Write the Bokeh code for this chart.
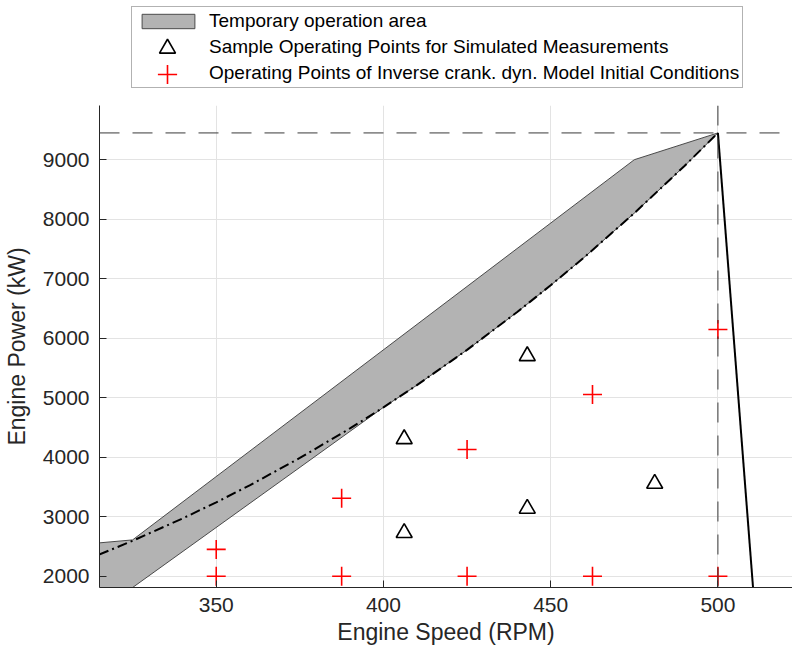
from bokeh.plotting import figure
from bokeh.layouts import column
from bokeh.models import Range1d, FixedTicker, Legend, LegendItem, Span
from bokeh.embed import file_html
from bokeh.resources import INLINE

# ---- data ----
# temporary operation area (upper boundary, then lower boundary back)
area_upper_rpm = [315, 325, 475, 500]
area_upper_kw = [2560, 2610, 9000, 9450]
area_lower_rpm = [490, 475, 460, 450, 440, 425, 410, 400, 325, 315]
area_lower_kw = [8894, 8102, 7358, 6889, 6440, 5804, 5211, 4838, 1810, 1405]

# propeller (dash-dot) curve
prop_rpm = [315, 325, 340, 350, 360, 375, 390, 400, 410, 425, 440, 450, 460, 475, 490, 500]
prop_kw = [2363, 2595, 2972, 3241, 3527, 3987, 4484, 4838, 5211, 5804, 6440, 6889, 7358, 8102, 8894, 9450]

# steep limit line from max power point
limit_rpm = [500, 510.5]
limit_kw = [9450, 1810]

max_power_kw = 9450
rated_rpm = 500

# sample operating points (triangles)
tri_rpm = [406.2, 406.2, 443.0, 443.0, 481.1]
tri_kw = [4306, 2728, 5701, 3136, 3556]

# initial-condition operating points (red plus)
plus_rpm = [350, 350, 387.5, 387.5, 425, 425, 462.5, 462.5, 500, 500]
plus_kw = [2000, 2450, 2000, 3311, 2000, 4129, 2000, 5054, 2000, 6146]

x_ticks = [350, 400, 450, 500]
y_ticks = [2000, 3000, 4000, 5000, 6000, 7000, 8000, 9000]

legend_labels = ["Temporary operation area",
                 "Sample Operating Points for Simulated Measurements",
                 "Operating Points of Inverse crank. dyn. Model Initial Conditions"]

FONT = "Liberation Sans"
TXT = "#262626"

AREA_STYLE = dict(fill_color="#b3b3b3", line_color="#4a4a4a", line_width=1)
TRI_STYLE = dict(marker="triangle", size=16, fill_color=None, line_color="black", line_width=1.6)
PLUS_STYLE = dict(marker="cross", size=19, line_color="#ff0000", line_width=1.6)

# ---------------- main plot ----------------
p = figure(width=792, height=547, output_backend="svg", toolbar_location=None,
           x_range=Range1d(315.1, 522.3), y_range=Range1d(1810, 9911),
           min_border_left=98, min_border_right=0, min_border_bottom=65, min_border_top=0)
p.outline_line_color = None
p.background_fill_color = "white"
p.border_fill_color = "white"

for ax in (p.xaxis[0], p.yaxis[0]):
    ax.axis_line_color = TXT
    ax.axis_line_width = 1
    ax.major_tick_line_color = TXT
    ax.major_tick_in = 7
    ax.major_tick_out = 0
    ax.minor_tick_line_color = None
    ax.major_label_text_font = FONT
    ax.major_label_text_font_size = "21px"
    ax.major_label_text_color = TXT
    ax.axis_label_text_font = FONT
    ax.axis_label_text_font_size = "23px"
    ax.axis_label_text_font_style = "normal"
    ax.axis_label_text_color = TXT
    ax.major_label_standoff = 10
p.xaxis.ticker = FixedTicker(ticks=x_ticks)
p.yaxis.ticker = FixedTicker(ticks=y_ticks)
p.xaxis.axis_label = "Engine Speed (RPM)"
p.yaxis.axis_label = "Engine Power (kW)"
p.xaxis.axis_label_standoff = 4
p.yaxis.axis_label_standoff = 10

p.xgrid.ticker = FixedTicker(ticks=x_ticks)
p.ygrid.ticker = FixedTicker(ticks=y_ticks)
for g in (p.xgrid[0], p.ygrid[0]):
    g.grid_line_color = "#e3e3e3"
    g.grid_line_width = 1

p.patch(area_upper_rpm + area_lower_rpm, area_upper_kw + area_lower_kw, **AREA_STYLE)

p.add_layout(Span(location=max_power_kw, dimension="width", line_color="#3a3a3a",
                  line_width=1, line_dash="20 13"))
p.add_layout(Span(location=rated_rpm, dimension="height", line_color="#3a3a3a",
                  line_width=1, line_dash="20 13"))

p.line(prop_rpm, prop_kw, line_color="black", line_width=2, line_dash="10 4 2 4")
p.line(limit_rpm, limit_kw, line_color="black", line_width=2)

p.scatter(tri_rpm, tri_kw, **TRI_STYLE)
p.scatter(plus_rpm, plus_kw, **PLUS_STYLE)

# ---------------- legend strip ----------------
lg = figure(width=792, height=105, output_backend="svg", toolbar_location=None,
            x_range=Range1d(0, 1), y_range=Range1d(0, 1),
            x_axis_location=None, y_axis_location=None,
            min_border_left=0, min_border_right=0, min_border_top=0, min_border_bottom=0)
lg.outline_line_color = None
lg.xgrid.visible = False
lg.ygrid.visible = False
lg.background_fill_color = "white"
lg.border_fill_color = "white"

# legend-only renderers: the same styles, placed outside the visible range
r_area = lg.patch([-5, -4, -4], [-5, -5, -4], **AREA_STYLE)
r_tri = lg.scatter([-5], [-5], **TRI_STYLE)
r_plus = lg.scatter([-5], [-5], **PLUS_STYLE)
r_blank = lg.scatter([-5], [-5], marker="circle", size=1, line_alpha=0, fill_alpha=0)


def style(leg):
    leg.label_text_font = FONT
    leg.label_text_font_size = "19px"
    leg.label_text_color = "#000000"
    leg.margin = 0


legend = Legend(items=[
    LegendItem(label=legend_labels[0], renderers=[r_area]),
    LegendItem(label=legend_labels[1], renderers=[r_blank]),
    LegendItem(label=legend_labels[2], renderers=[r_blank]),
])
style(legend)
legend.glyph_width = 66
legend.glyph_height = 18
legend.label_height = 18
legend.spacing = 4
legend.padding = 3
legend.label_standoff = 8
legend.border_line_color = "#666666"
legend.border_line_width = 1
legend.background_fill_color = "white"
legend.background_fill_alpha = 1
legend.location = (32, 17)
lg.add_layout(legend)

# full-size legend markers (Bokeh scales legend markers to 0.4 x glyph box)
for rend, box, loc in ((r_tri, 40, (48, 37)), (r_plus, 48, (44, 7))):
    ml = Legend(items=[LegendItem(label=" ", renderers=[rend])])
    style(ml)
    ml.glyph_width = box
    ml.glyph_height = box
    ml.padding = 0
    ml.label_standoff = 0
    ml.label_width = 1
    ml.border_line_alpha = 0
    ml.background_fill_alpha = 0
    ml.location = loc
    lg.add_layout(ml)

layout = column(lg, p, spacing=0)
open("out.html", "w").write(file_html(layout, INLINE))
